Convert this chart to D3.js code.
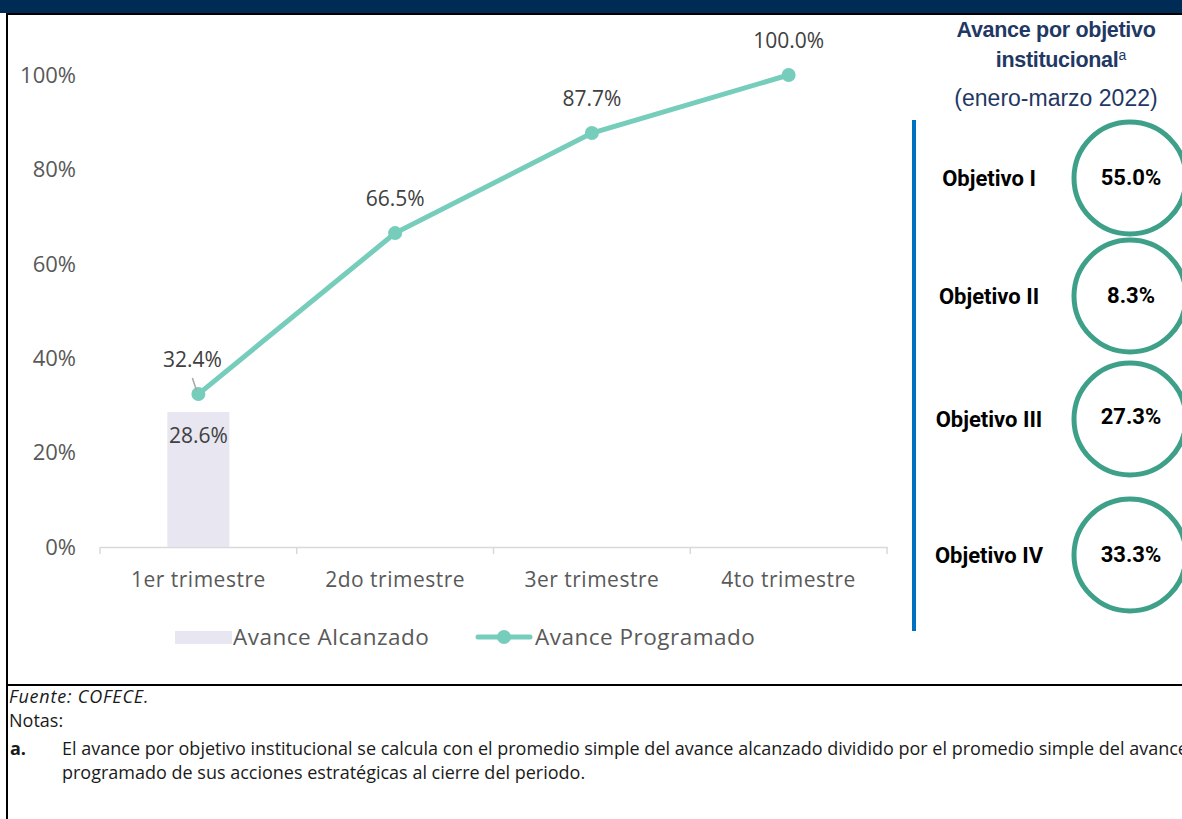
<!DOCTYPE html>
<html>
<head>
<meta charset="utf-8">
<script src="https://cdn.jsdelivr.net/npm/d3@7"></script>
<style>
  body { margin: 0; background: #fff; }
  svg { display: block; }
</style>
</head>
<body>
<svg id="chart" width="1182" height="819"></svg>
<script>
const categories = ['1er trimestre', '2do trimestre', '3er trimestre', '4to trimestre']
const alcanzado = [28.6, null, null, null]
const programado = [32.4, 66.5, 87.7, 100.0]
const yTicks = [0, 20, 40, 60, 80, 100]
const objetivos = ['Objetivo I', 'Objetivo II', 'Objetivo III', 'Objetivo IV']
const objetivoValues = [55.0, 8.3, 27.3, 33.3]

const svg = d3.select('#chart')
const width = +svg.attr('width')
const height = +svg.attr('height')

const grey = '#595959'
const lineColor = '#76cdbb'
const barColor = '#e7e6f1'
const navy = '#002b55'

// frame
svg.append('rect').attr('x', 0).attr('y', 0).attr('width', width).attr('height', 13).attr('fill', navy)
svg.append('line').attr('x1', 7).attr('x2', width).attr('y1', 14).attr('y2', 14)
	.attr('stroke', '#000').attr('stroke-width', 2)
svg.append('line').attr('x1', 7).attr('x2', 7).attr('y1', 13).attr('y2', height)
	.attr('stroke', '#000').attr('stroke-width', 2)
svg.append('line').attr('x1', 7).attr('x2', width).attr('y1', 685).attr('y2', 685)
	.attr('stroke', '#000').attr('stroke-width', 2)

const xScale = d3.scaleBand()
	.domain(categories)
	.range([100, 887])
	.padding(0)

const yScale = d3.scaleLinear()
	.domain([0, 100])
	.range([547, 75])

const font = '"Open Sans", Roboto, sans-serif'

// y labels
svg.append('g').selectAll('text')
	.data(yTicks)
	.enter()
	.append('text')
	.attr('x', 76)
	.attr('y', d => yScale(d))
	.attr('dy', '0.35em')
	.attr('text-anchor', 'end')
	.attr('font-family', font)
	.attr('font-size', 22)
	.attr('fill', grey)
	.text(d => d + '%')

// x axis
const xAxis = d3.axisBottom(xScale).tickSize(0).tickPadding(25)
const xAxisG = svg.append('g')
	.attr('transform', `translate(0, ${yScale(0)})`)
	.call(xAxis)
xAxisG.select('.domain').attr('stroke', '#d9d9d9').attr('stroke-width', 1.5)
xAxisG.selectAll('text')
	.attr('font-family', font)
	.attr('font-size', 21)
	.attr('letter-spacing', 0.5)
	.attr('fill', grey)
const bounds = categories.map(c => xScale(c)).concat([xScale.range()[1]])
xAxisG.selectAll('.bound')
	.data(bounds)
	.enter()
	.append('line')
	.attr('x1', d => d).attr('x2', d => d)
	.attr('y1', 0).attr('y2', 7)
	.attr('stroke', '#d9d9d9').attr('stroke-width', 1.5)

// bars
const barW = xScale.bandwidth() * 0.315
const barData = categories.map((c, i) => ({cat: c, v: alcanzado[i]})).filter(d => d.v != null)
svg.append('g').selectAll('rect')
	.data(barData)
	.enter()
	.append('rect')
	.attr('x', d => xScale(d.cat) + xScale.bandwidth() / 2 - barW / 2)
	.attr('y', d => yScale(d.v))
	.attr('width', barW)
	.attr('height', d => yScale(0) - yScale(d.v))
	.attr('fill', barColor)
svg.append('g').selectAll('text')
	.data(barData)
	.enter()
	.append('text')
	.attr('x', d => xScale(d.cat) + xScale.bandwidth() / 2)
	.attr('y', d => yScale(d.v) + 24)
	.attr('dy', '0.35em')
	.attr('text-anchor', 'middle')
	.attr('font-family', font)
	.attr('font-size', 21)
	.attr('fill', '#404040')
	.text(d => d.v.toFixed(1) + '%')

// line
const lineData = categories.map((c, i) => ({cat: c, v: programado[i]}))
const cx = d => xScale(d.cat) + xScale.bandwidth() / 2
const line = d3.line().x(cx).y(d => yScale(d.v))
svg.append('path')
	.datum(lineData)
	.attr('d', line)
	.attr('fill', 'none')
	.attr('stroke', lineColor)
	.attr('stroke-width', 5)
	.attr('stroke-linecap', 'round')
svg.append('g').selectAll('circle')
	.data(lineData)
	.enter()
	.append('circle')
	.attr('cx', cx)
	.attr('cy', d => yScale(d.v))
	.attr('r', 7)
	.attr('fill', lineColor)

// line labels (first one sits slightly left with a leader line)
const labelDx = [-6, 0, 0, 0]
svg.append('g').selectAll('text')
	.data(lineData)
	.enter()
	.append('text')
	.attr('x', (d, i) => cx(d) + labelDx[i])
	.attr('y', d => yScale(d.v) - 34)
	.attr('dy', '0.35em')
	.attr('text-anchor', 'middle')
	.attr('font-family', font)
	.attr('font-size', 21)
	.attr('fill', '#404040')
	.text(d => d.v.toFixed(1) + '%')
svg.append('line')
	.attr('x1', cx(lineData[0]) - 6).attr('y1', yScale(lineData[0].v) - 16)
	.attr('x2', cx(lineData[0]) - 2).attr('y2', yScale(lineData[0].v) - 4)
	.attr('stroke', '#a6a6a6').attr('stroke-width', 1.5)

// legend
const legend = svg.append('g').attr('transform', 'translate(0, 637)')
legend.append('rect').attr('x', 175).attr('y', -6).attr('width', 57).attr('height', 13).attr('fill', barColor)
legend.append('text').attr('x', 233).attr('y', 0).attr('dy', '0.35em')
	.attr('font-family', font).attr('font-size', 22.5).attr('letter-spacing', 0.5).attr('fill', grey)
	.text('Avance Alcanzado')
legend.append('line').attr('x1', 478).attr('x2', 530).attr('y1', 0).attr('y2', 0)
	.attr('stroke', lineColor).attr('stroke-width', 5).attr('stroke-linecap', 'round')
legend.append('circle').attr('cx', 504).attr('cy', 0).attr('r', 7).attr('fill', lineColor)
legend.append('text').attr('x', 535).attr('y', 0).attr('dy', '0.35em')
	.attr('font-family', font).attr('font-size', 22.5).attr('letter-spacing', 0.5).attr('fill', grey)
	.text('Avance Programado')

// right panel
const panelFont = '"Liberation Sans", Arial, sans-serif'
const title = svg.append('text')
	.attr('text-anchor', 'middle')
	.attr('font-family', panelFont)
	.attr('fill', '#1f3864')
title.append('tspan').attr('x', 1056).attr('y', 37).attr('font-weight', 'bold').attr('font-size', 21.5)
	.attr('letter-spacing', '-0.3').text('Avance por objetivo')
title.append('tspan').attr('x', 1061).attr('y', 67).attr('font-weight', 'bold').attr('font-size', 21.5)
	.attr('letter-spacing', '-0.3').text('institucional')
title.append('tspan').attr('font-size', 14).attr('dy', -7).text('a')
title.append('tspan').attr('x', 1056).attr('y', 106).attr('font-size', 23).text('(enero-marzo 2022)')

svg.append('line').attr('x1', 914).attr('x2', 914).attr('y1', 120).attr('y2', 631)
	.attr('stroke', '#0070c0').attr('stroke-width', 4)

const objY = d3.scaleOrdinal().domain(objetivos).range([178, 296, 419, 555])
const objG = svg.append('g').selectAll('g')
	.data(objetivos.map((o, i) => ({name: o, v: objetivoValues[i]})))
	.enter()
	.append('g')
	.attr('transform', d => `translate(0, ${objY(d.name)})`)
objG.append('circle')
	.attr('cx', 1130).attr('cy', 0).attr('r', 56)
	.attr('fill', 'none').attr('stroke', '#3fa08a').attr('stroke-width', 5)
objG.append('text')
	.attr('x', 989).attr('y', 0).attr('dy', '0.35em')
	.attr('text-anchor', 'middle')
	.attr('font-family', 'Roboto, sans-serif').attr('font-weight', 'bold').attr('font-size', 22)
	.attr('fill', '#000')
	.text(d => d.name)
objG.append('text')
	.attr('x', 1131).attr('y', (d, i) => i == 2 ? -3 : -1).attr('dy', '0.35em')
	.attr('text-anchor', 'middle')
	.attr('font-family', 'Roboto, sans-serif').attr('font-weight', 'bold').attr('font-size', 22)
	.attr('fill', '#000')
	.text(d => d.v.toFixed(1) + '%')

// footer
const foot = svg.append('g').attr('font-family', font).attr('font-size', 18).attr('fill', '#1a1a1a')
foot.append('text').attr('x', 9).attr('y', 703).attr('font-style', 'italic').attr('letter-spacing', 0.8).text('Fuente: COFECE.')
foot.append('text').attr('x', 9).attr('y', 727).text('Notas:')
foot.append('text').attr('x', 10).attr('y', 755).attr('font-weight', 'bold').text('a.')
foot.append('text').attr('x', 62).attr('y', 755)
	.text('El avance por objetivo institucional se calcula con el promedio simple del avance alcanzado dividido por el promedio simple del avance')
foot.append('text').attr('x', 62).attr('y', 779)
	.text('programado de sus acciones estratégicas al cierre del periodo.')
</script>
</body>
</html>
